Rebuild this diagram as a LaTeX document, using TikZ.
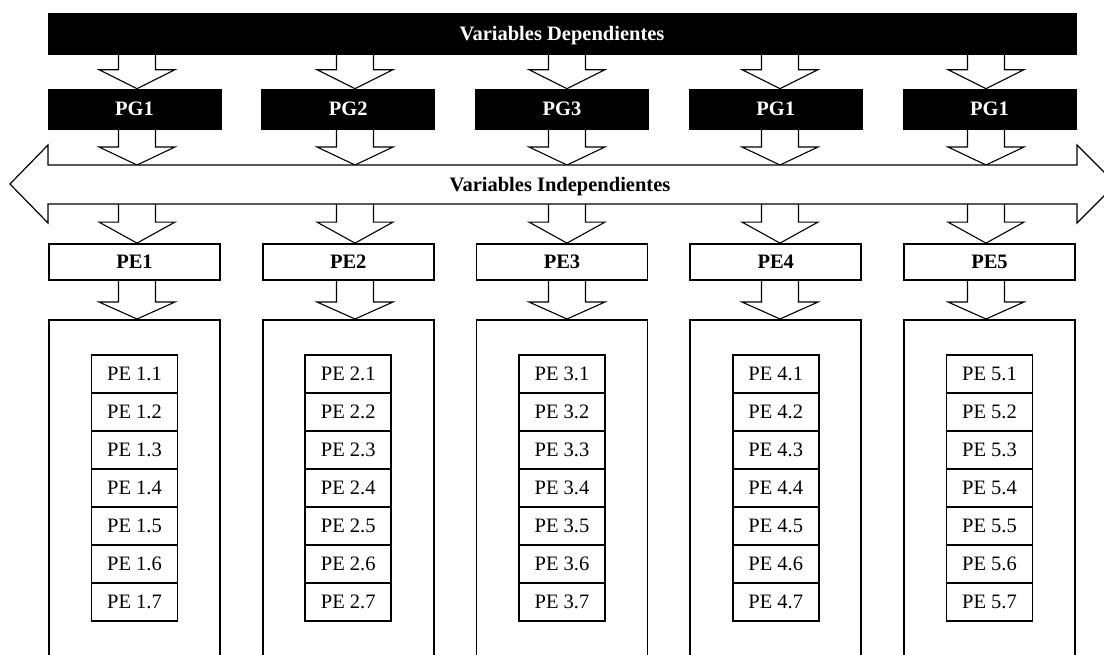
\documentclass[tikz,border=0pt]{standalone}
\usepackage{fontspec}
\setmainfont{Liberation Serif}
\usetikzlibrary{calc,backgrounds}
\newcommand\fatarrow[4]{%
  \draw[fatarr] let \p1=(#1), \p2=(#2), \p3=(#3) in
    (\x1-18.5pt,\y2) -- (\x1-18.5pt,\y3+#4pt) -- (\x1-38pt,\y3+#4pt) -- (\x1,\y3)
    -- (\x1+38pt,\y3+#4pt) -- (\x1+18.5pt,\y3+#4pt) -- (\x1+18.5pt,\y2);}
\begin{document}
\begin{tikzpicture}[x=1pt,y=-1pt,
  every node/.style={font=\fontsize{20.5}{24}\selectfont, text height=13.5pt, text depth=0pt, inner sep=0pt},
  blackbox/.style={fill=black, draw=black, line width=0.6pt, text=white, font=\fontsize{20.5}{24}\selectfont\bfseries},
  pebox/.style={draw=black, fill=white, line width=1.8pt, font=\fontsize{20.5}{24}\selectfont\bfseries},
  bigbox/.style={draw=black, line width=1.8pt},
  subbox/.style={draw=black, line width=1.6pt, minimum width=86pt, minimum height=38pt},
  fatarr/.style={draw=black, fill=white, line width=1.1pt, line join=miter},
  dblarr/.style={draw=black, fill=white, line width=1.2pt, line join=miter},
]
\useasboundingbox (0,0) rectangle (1104,654);
\clip (0,0) rectangle (1104,654);

\node[blackbox, minimum width=1028pt, minimum height=41pt] (dep) at (562,33.5) {Variables Dependientes};

\coordinate (itop) at (562,165);
\coordinate (ibot) at (562,204);

\foreach \i/\lab/\ax in {1/PG1/137, 2/PG2/355, 3/PG3/567, 4/PG1/780, 5/PG1/986}{
  \pgfmathsetmacro\cx{48+213.75*(\i-1)+86.5}
  \coordinate (a\i) at (\ax,0);
  \node[blackbox, minimum width=173pt, minimum height=40pt] (pg\i) at (\cx,109) {\lab};
  \node[pebox, minimum width=171pt, minimum height=36pt] (pe\i) at (\cx,262) {PE\i};
  \node[bigbox, minimum width=171pt, minimum height=400pt, anchor=north] (box\i) at (\cx,319) {};
  \foreach \j in {1,...,7}{
    \node[subbox] (s\i\j) at (\cx,{374+38*(\j-1)}) {PE \i.\j};
  }
}

\begin{scope}[on background layer]
\foreach \i in {1,...,5}{
  \fatarrow{a\i}{dep.south}{pg\i.north}{19}
  \fatarrow{a\i}{pg\i.south}{itop}{18}
  \fatarrow{a\i}{ibot}{pe\i.north}{21}
  \fatarrow{a\i}{pe\i.south}{box\i.north}{17}
}
\end{scope}

\draw[dblarr] (10,184) -- (48,145) -- (48,165) -- (1077,165) -- (1077,145) -- (1116,184)
  -- (1077,223) -- (1077,204) -- (48,204) -- (48,223) -- cycle;
\node[font=\fontsize{20.5}{24}\selectfont\bfseries] (indep) at (560,184.5) {Variables Independientes};
\end{tikzpicture}
\end{document}
